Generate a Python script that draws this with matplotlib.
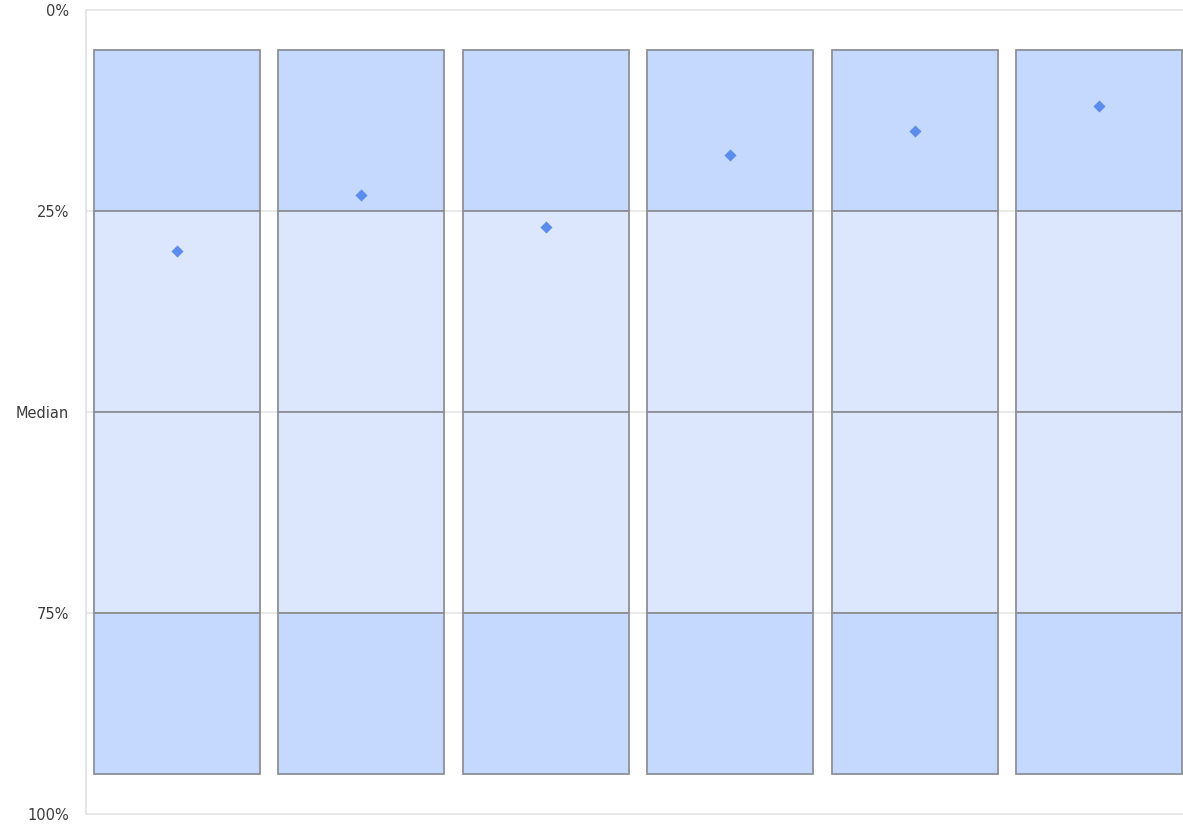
import matplotlib
matplotlib.use('Agg')
import matplotlib.pyplot as plt
import numpy as np

# percentile bands of each column (top to bottom, in %)
columns = [1, 2, 3, 4, 5, 6]
p_low = [5, 5, 5, 5, 5, 5]
p_q1 = [25, 25, 25, 25, 25, 25]
p_med = [50, 50, 50, 50, 50, 50]
p_q3 = [75, 75, 75, 75, 75, 75]
p_high = [95, 95, 95, 95, 95, 95]

# position of the marker in each column
marker_vals = [30, 23, 27, 18, 15, 12]

tick_vals = [0, 25, 50, 75, 100]
tick_labels = ['0%', '25%', 'Median', '75%', '100%']

dark = '#c5d8fd'
light = '#dce6fd'
edge = '#8d9096'

fig = plt.figure(figsize=(11.83, 8.25), dpi=100)
ax = fig.add_axes([86/1183, 11/825, 1104/1183, 804/825])

x = np.arange(len(columns))
w = 0.9
lo = np.array(p_low)
q1 = np.array(p_q1)
md = np.array(p_med)
q3 = np.array(p_q3)
hi = np.array(p_high)

# light grid lines behind the boxes
for t in tick_vals[1:-1]:
    ax.axhline(t, color='#e6e6e6', lw=1.2, zorder=0)

ax.bar(x, q1 - lo, bottom=lo, width=w, color=dark, edgecolor=edge, lw=1.3, zorder=2)
ax.bar(x, md - q1, bottom=q1, width=w, color=light, edgecolor=edge, lw=1.3, zorder=2)
ax.bar(x, q3 - md, bottom=md, width=w, color=light, edgecolor=edge, lw=1.3, zorder=2)
ax.bar(x, hi - q3, bottom=q3, width=w, color=dark, edgecolor=edge, lw=1.3, zorder=2)

ax.scatter(x, marker_vals, marker='D', s=38, color='#5b8def', zorder=3, linewidths=0)

ax.set_ylim(100, 0)
ax.set_xlim(-0.494, len(columns) - 1 + 0.494)
ax.set_xticks([])
ax.set_yticks(tick_vals)
ax.set_yticklabels(tick_labels, fontsize=10.5, color='#3c3c3c')
ax.tick_params(axis='y', length=0, pad=12)
for s in ax.spines.values():
    s.set_color('#e2e2e2')
    s.set_linewidth(1.2)

fig.savefig('out.png', dpi=100)
